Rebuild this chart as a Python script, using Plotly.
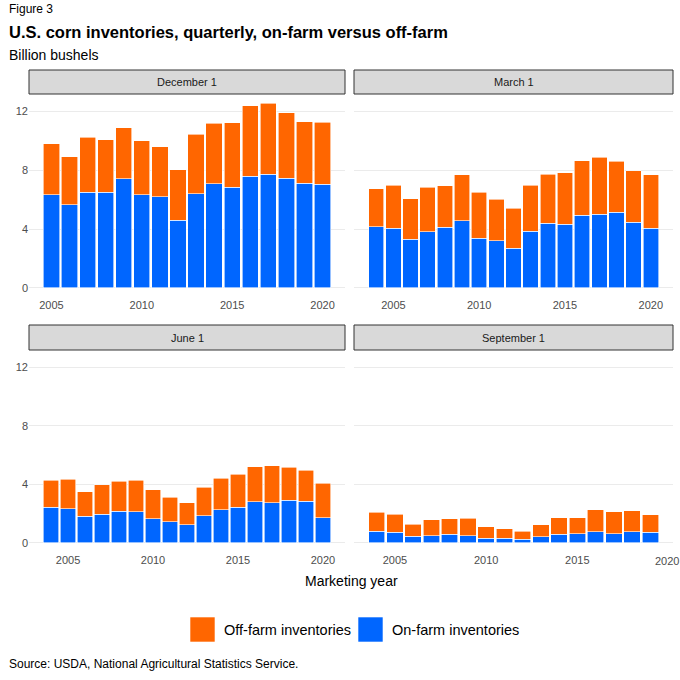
import plotly.graph_objects as go

# ---------------- data (billion bushels) ----------------
dec_years = list(range(2005, 2021))
dec_on = [6.32, 5.64, 6.52, 6.50, 7.41, 6.32, 6.20, 4.59, 6.39, 7.09, 6.84, 7.61, 7.73, 7.45, 7.11, 7.05]
dec_total = [9.82, 8.93, 10.27, 10.07, 10.89, 10.02, 9.61, 8.05, 10.45, 11.20, 11.23, 12.41, 12.57, 11.91, 11.32, 11.27]

mar_years = list(range(2004, 2021))
mar_on = [4.16, 4.05, 3.32, 3.80, 4.11, 4.57, 3.36, 3.20, 2.68, 3.86, 4.39, 4.32, 4.93, 5.00, 5.14, 4.45, 4.05]
mar_total = [6.75, 6.98, 6.07, 6.84, 6.95, 7.70, 6.52, 6.02, 5.41, 7.00, 7.75, 7.84, 8.64, 8.89, 8.61, 7.98, 7.70]

jun_years = list(range(2004, 2021))
jun_on = [2.43, 2.32, 1.82, 1.95, 2.16, 2.11, 1.64, 1.45, 1.25, 1.84, 2.25, 2.45, 2.82, 2.73, 2.91, 2.84, 1.73]
jun_total = [4.27, 4.34, 3.50, 3.98, 4.20, 4.27, 3.64, 3.11, 2.73, 3.82, 4.43, 4.68, 5.20, 5.27, 5.18, 4.98, 4.09]

sep_years = list(range(2004, 2020))
sep_on = [0.80, 0.73, 0.45, 0.48, 0.59, 0.48, 0.30, 0.30, 0.23, 0.43, 0.59, 0.61, 0.75, 0.61, 0.77, 0.73]
sep_total = [2.09, 1.95, 1.27, 1.59, 1.66, 1.68, 1.11, 0.95, 0.80, 1.23, 1.70, 1.70, 2.27, 2.11, 2.20, 1.91]

panel_titles = ["December 1", "March 1", "June 1", "September 1"]
series_names = ["Off-farm inventories", "On-farm inventories"]
tick_years = [2005, 2010, 2015, 2020]
y_ticks = [0, 4, 8, 12]

ORANGE = "#FF6600"
BLUE = "#0066FF"
FONT = "Liberation Sans, Arial, sans-serif"

W = H = 680
def px(x):
    return x / W
def py(y):
    return 1 - y / H

panels = [
    (dec_years, dec_on, dec_total),
    (mar_years, mar_on, mar_total),
    (jun_years, jun_on, jun_total),
    (sep_years, sep_on, sep_total),
]

# pixel geometry of panels: (x0, x1, y_top, y_bottom)
geom = [
    (29, 345, 94, 297),
    (354, 673, 94, 297),
    (29, 345, 350, 552),
    (354, 673, 350, 552),
]

fig = go.Figure()

for i, (years, on, total) in enumerate(panels):
    off = [round(t - o, 3) for t, o in zip(total, on)]
    suffix = "" if i == 0 else str(i + 1)
    fig.add_trace(go.Bar(
        x=years, y=on, name=series_names[1], marker=dict(color=BLUE, line=dict(color="white", width=0.6)),
        xaxis="x" + suffix, yaxis="y" + suffix, showlegend=False,
    ))
    fig.add_trace(go.Bar(
        x=years, y=off, name=series_names[0], marker=dict(color=ORANGE, line=dict(color="white", width=0.6)),
        xaxis="x" + suffix, yaxis="y" + suffix, showlegend=False,
    ))

layout = dict(
    width=W, height=H,
    margin=dict(l=0, r=0, t=0, b=0),
    paper_bgcolor="white", plot_bgcolor="white",
    barmode="stack", bargap=0.1,
    font=dict(family=FONT, size=11, color="#4D4D4D"),
    showlegend=False,
)

for i, (years, on, total) in enumerate(panels):
    x0, x1, yt, yb = geom[i]
    suffix = "" if i == 0 else str(i + 1)
    lo = years[0] - 0.45
    hi = years[-1] + 0.45
    pad = (hi - lo) * 0.05
    layout["xaxis" + suffix] = dict(
        domain=[px(x0), px(x1)], anchor="y" + suffix,
        range=[lo - pad, hi + pad], tickvals=tick_years,
        showgrid=False, zeroline=False, showline=False, ticks="",
        tickfont=dict(size=11, color="#4D4D4D"),
    )
    layout["yaxis" + suffix] = dict(
        domain=[py(yb), py(yt)], anchor="x" + suffix,
        range=[-0.63, 13.2], tickvals=y_ticks,
        showgrid=True, gridcolor="#EBEBEB", gridwidth=1.1,
        zeroline=False, showline=False, ticks="",
        showticklabels=(i % 2 == 0),
        tickfont=dict(size=11, color="#4D4D4D"),
    )

fig.update_layout(**layout)

# the last tick label of the September panel sits on the page edge: draw it right-aligned
fig.add_annotation(xref="paper", yref="paper", x=px(680), y=py(561), text=str(tick_years[-1]),
                   showarrow=False, xanchor="right", yanchor="middle", borderpad=0,
                   font=dict(family=FONT, size=11, color="#4D4D4D"))

# facet strips
strips = [(29, 345, 70, 94), (354, 673, 70, 94), (29, 345, 325, 350), (354, 673, 325, 350)]
for (x0, x1, y0, y1), title in zip(strips, panel_titles):
    fig.add_shape(type="rect", xref="paper", yref="paper",
                  x0=px(x0), x1=px(x1), y0=py(y1), y1=py(y0),
                  fillcolor="#D9D9D9", line=dict(color="#333333", width=1))
    fig.add_annotation(xref="paper", yref="paper", x=px((x0 + x1) / 2), y=py((y0 + y1) / 2),
                       text=title, showarrow=False, xanchor="center", yanchor="middle",
                       font=dict(family=FONT, size=11, color="#1A1A1A"))

# titles and texts
fig.add_annotation(xref="paper", yref="paper", x=px(7), y=py(9), text="Figure 3", showarrow=False,
                   xanchor="left", yanchor="middle", font=dict(family=FONT, size=12, color="black"))
fig.add_annotation(xref="paper", yref="paper", x=px(7), y=py(32),
                   text="<b>U.S. corn inventories, quarterly, on-farm versus off-farm</b>", showarrow=False,
                   xanchor="left", yanchor="middle", font=dict(family=FONT, size=16.5, color="black"))
fig.add_annotation(xref="paper", yref="paper", x=px(7), y=py(55), text="Billion bushels", showarrow=False,
                   xanchor="left", yanchor="middle", font=dict(family=FONT, size=14, color="black"))
fig.add_annotation(xref="paper", yref="paper", x=px(351), y=py(581), text="Marketing year", showarrow=False,
                   xanchor="center", yanchor="middle", font=dict(family=FONT, size=14, color="black"))
fig.add_annotation(xref="paper", yref="paper", x=px(7), y=py(664),
                   text="Source: USDA, National Agricultural Statistics Service.", showarrow=False,
                   xanchor="left", yanchor="middle", font=dict(family=FONT, size=12, color="black"))

# legend keys
legend_items = [(190, ORANGE, series_names[0]), (358, BLUE, series_names[1])]
for x, col, name in legend_items:
    fig.add_shape(type="rect", xref="paper", yref="paper",
                  x0=px(x), x1=px(x + 25), y0=py(642), y1=py(617),
                  fillcolor=col, line=dict(color="white", width=0.6))
    fig.add_annotation(xref="paper", yref="paper", x=px(x + 32), y=py(630), text=name, showarrow=False,
                       xanchor="left", yanchor="middle", font=dict(family=FONT, size=14.5, color="black"))

fig.write_html(
    "out.html",
    config={"displayModeBar": False},
    post_script="document.body.style.margin='0';document.documentElement.style.overflow='hidden';",
)
